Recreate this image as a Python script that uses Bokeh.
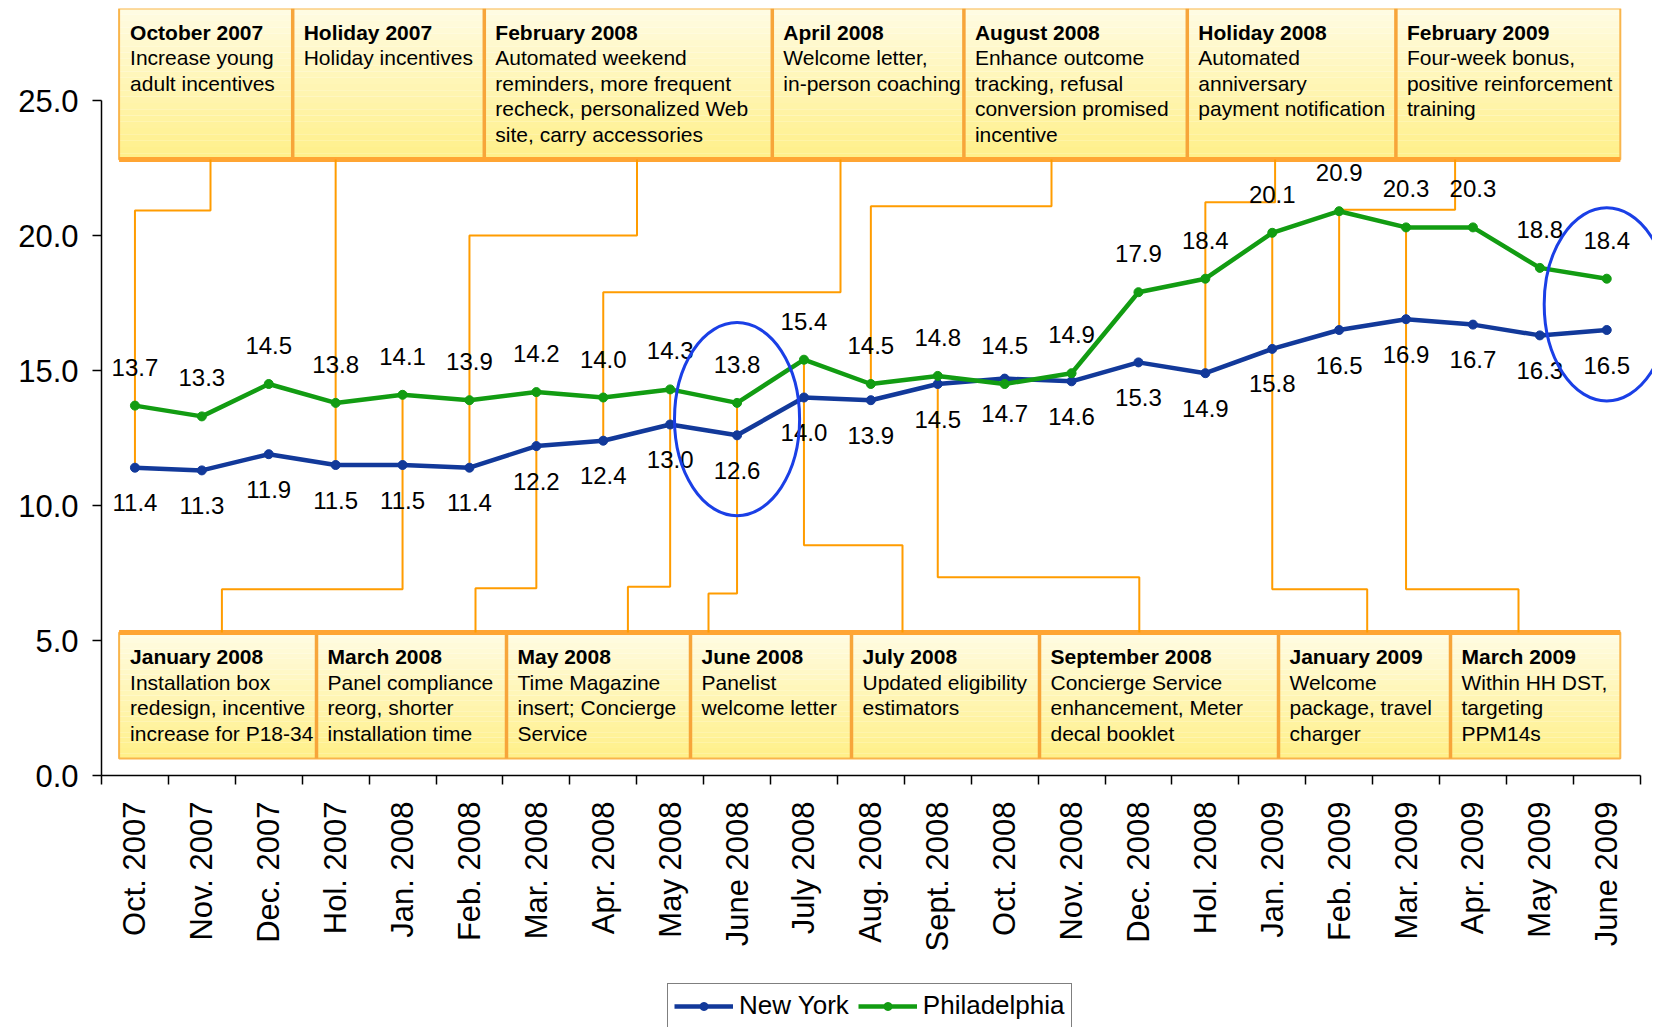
import math
import numpy as np
from bokeh.plotting import figure
from bokeh.layouts import column
from bokeh.models import Range1d, FixedTicker, Legend, LegendItem
from bokeh.core.properties import value
from bokeh.embed import file_html
from bokeh.resources import INLINE

# ---------------- data ----------------
categories = ["Oct. 2007", "Nov. 2007", "Dec. 2007", "Hol. 2007", "Jan. 2008", "Feb. 2008",
              "Mar. 2008", "Apr. 2008", "May 2008", "June 2008", "July 2008", "Aug. 2008",
              "Sept. 2008", "Oct. 2008", "Nov. 2008", "Dec. 2008", "Hol. 2008", "Jan. 2009",
              "Feb. 2009", "Mar. 2009", "Apr. 2009", "May 2009", "June 2009"]
new_york = [11.4, 11.3, 11.9, 11.5, 11.5, 11.4, 12.2, 12.4, 13.0, 12.6, 14.0, 13.9,
            14.5, 14.7, 14.6, 15.3, 14.9, 15.8, 16.5, 16.9, 16.7, 16.3, 16.5]
philadelphia = [13.7, 13.3, 14.5, 13.8, 14.1, 13.9, 14.2, 14.0, 14.3, 13.8, 15.4, 14.5,
                14.8, 14.5, 14.9, 17.9, 18.4, 20.1, 20.9, 20.3, 20.3, 18.8, 18.4]
y_ticks = [0, 5, 10, 15, 20, 25]
series_names = ["New York", "Philadelphia"]

top_titles = ["October 2007", "Holiday 2007", "February 2008", "April 2008",
              "August 2008", "Holiday 2008", "February 2009"]
top_texts = ["Increase young\nadult incentives",
             "Holiday incentives",
             "Automated weekend\nreminders, more frequent\nrecheck, personalized Web\nsite, carry accessories",
             "Welcome letter,\nin-person coaching",
             "Enhance outcome\ntracking, refusal\nconversion promised\nincentive",
             "Automated\nanniversary\npayment notification",
             "Four-week bonus,\npositive reinforcement\ntraining"]
top_months = ["Oct. 2007", "Hol. 2007", "Feb. 2008", "Apr. 2008", "Aug. 2008", "Hol. 2008", "Feb. 2009"]
top_series = ["ny", "ny", "ny", "ny", "ph", "ny", "ny"]

bottom_titles = ["January 2008", "March 2008", "May 2008", "June 2008", "July 2008",
                 "September 2008", "January 2009", "March 2009"]
bottom_texts = ["Installation box\nredesign, incentive\nincrease for P18-34",
                "Panel compliance\nreorg, shorter\ninstallation time",
                "Time Magazine\ninsert; Concierge\nService",
                "Panelist\nwelcome letter",
                "Updated eligibility\nestimators",
                "Concierge Service\nenhancement, Meter\ndecal booklet",
                "Welcome\npackage, travel\ncharger",
                "Within HH DST,\ntargeting\nPPM14s"]
bottom_months = ["Jan. 2008", "Mar. 2008", "May 2008", "June 2008", "July 2008",
                 "Sept. 2008", "Jan. 2009", "Mar. 2009"]
highlighted = ["June 2008", "June 2009"]

# ---------------- layout (page pixels) ----------------
FONT = "Liberation Sans"
PX_LEFT = 101.0
BAND = 66.9
FRAME_W = 1551
FRAME_H = 767
FRAME_TOP = 8.0
PX_ZERO = FRAME_TOP + FRAME_H
PXU = 27.0
BOTTOM_SPACE = 200
FIG_W = int(PX_LEFT) + FRAME_W
MAIN_H = int(FRAME_TOP) + FRAME_H + BOTTOM_SPACE
LEG_FIG_H = 1027 - MAIN_H

def dx(px):
    return (px - PX_LEFT) / BAND - 0.5

def dy(py):
    return (PX_ZERO - py) / PXU

top_edges = [118.6, 292.2, 483.8, 771.8, 963.4, 1186.8, 1395.4, 1619.8]
top_y0, top_y1 = 8.0, 159.0
top_conn_x = [210.0, None, 636.5, 840.0, 1051.0, 1274.6, 1454.6]
top_conn_jog = [210.0, None, 235.0, 291.7, 205.7, 201.7, 209.3]

bot_edges = [118.6, 316.0, 506.0, 690.0, 851.0, 1039.0, 1278.0, 1450.0, 1619.8]
bot_y0, bot_y1 = 632.0, 758.0
bot_conn_x = [221.4, 475.0, 627.4, 708.0, 902.0, 1138.8, 1366.7, 1518.0]
bot_conn_jog = [588.7, 587.7, 586.3, 593.0, 544.7, 576.7, 588.7, 588.7]

NY_COLOR = "#12399A"
PH_COLOR = "#129C12"
ORANGE = "#FF9C00"
BOX_EDGE = "#F9B54C"
BOX_EDGE_DARK = "#F7A53A"

x = list(range(len(categories)))

p = figure(frame_width=FRAME_W, frame_height=FRAME_H,
           x_range=Range1d(-0.5, -0.5 + FRAME_W / BAND),
           y_range=Range1d(0, FRAME_H / PXU),
           min_border_left=int(PX_LEFT), min_border_right=0, min_border_top=int(FRAME_TOP),
           min_border_bottom=BOTTOM_SPACE,
           output_backend="svg", toolbar_location=None)
p.xgrid.visible = False
p.ygrid.visible = False
p.outline_line_color = None
p.background_fill_color = "white"

# ---- axes ----
xa = p.xaxis[0]
xa.ticker = FixedTicker(ticks=x, minor_ticks=[i - 0.5 for i in range(len(categories) + 1)])
xa.major_label_overrides = {i: c for i, c in enumerate(categories)}
xa.major_label_orientation = math.pi / 2
xa.major_label_text_font = FONT
xa.major_label_text_font_size = "31px"
xa.major_label_text_color = "black"
xa.major_label_standoff = 17
xa.major_tick_line_color = None
xa.major_tick_out = 9
xa.major_tick_in = 0
xa.minor_tick_out = 9
xa.minor_tick_in = 0
xa.minor_tick_line_color = "black"
xa.minor_tick_line_width = 1.5
xa.axis_line_color = "black"
xa.axis_line_width = 1.5
xa.bounds = (-0.5, len(categories) - 0.5)

ya = p.yaxis[0]
ya.ticker = FixedTicker(ticks=y_ticks)
ya.major_label_overrides = {t: f"{t:.1f}" for t in y_ticks}
ya.major_label_text_font = FONT
ya.major_label_text_font_size = "31px"
ya.major_label_text_color = "black"
ya.major_label_standoff = 14
ya.major_tick_out = 9
ya.major_tick_in = 0
ya.major_tick_line_width = 1.5
ya.minor_tick_line_color = None
ya.axis_line_width = 1.5
ya.bounds = (0, 25)

# ---- annotation boxes (gradient fill) ----
def gradient_row(left_px, right_px, y0, y1, n=24):
    c0 = np.array([0xFF, 0xFC, 0xE2])
    c1 = np.array([0xFF, 0xF0, 0x8A])
    tops, bots, cols = [], [], []
    for i in range(n):
        t = i / (n - 1)
        c = (c0 + (c1 - c0) * t).astype(int)
        tops.append(dy(y0 + (y1 - y0) * i / n))
        bots.append(dy(y0 + (y1 - y0) * (i + 1) / n))
        cols.append("#%02X%02X%02X" % tuple(c))
    p.quad(left=[dx(left_px)] * n, right=[dx(right_px)] * n, top=tops, bottom=bots,
           fill_color=cols, line_color=None)

gradient_row(top_edges[0], top_edges[-1], top_y0, top_y1)
gradient_row(bot_edges[0], bot_edges[-1], bot_y0, bot_y1)

for edges, y0, y1, thick_y in [(top_edges, top_y0, top_y1, top_y1), (bot_edges, bot_y0, bot_y1, bot_y0)]:
    p.quad(left=[dx(edges[0])], right=[dx(edges[-1])], top=[dy(y0)], bottom=[dy(y1)],
           fill_color=None, line_color=BOX_EDGE, line_width=2)
    inner = edges[1:-1]
    p.segment(x0=[dx(e) for e in inner], x1=[dx(e) for e in inner],
              y0=[dy(y0)] * len(inner), y1=[dy(y1)] * len(inner),
              line_color=BOX_EDGE_DARK, line_width=3.5)
    p.segment(x0=[dx(edges[0])], x1=[dx(edges[-1])], y0=[dy(thick_y)], y1=[dy(thick_y)],
              line_color="#FFA533", line_width=5)

def box_texts(edges, titles, texts, title_y, line_y0, step):
    tx, ty, tt, bx, by, bt = [], [], [], [], [], []
    for i, (ttl, txt) in enumerate(zip(titles, texts)):
        left = dx(edges[i] + 11)
        tx.append(left); ty.append(dy(title_y)); tt.append(ttl)
        for j, line in enumerate(txt.split("\n")):
            bx.append(left); by.append(dy(line_y0 + j * step)); bt.append(line)
    p.text(x=tx, y=ty, text=tt, text_font=value(FONT), text_font_size="21px",
           text_font_style="bold", text_color="black", text_align="left", text_baseline="middle")
    p.text(x=bx, y=by, text=bt, text_font=value(FONT), text_font_size="21px",
           text_color="black", text_align="left", text_baseline="middle")

box_texts(top_edges, top_titles, top_texts, 31.8, 57.3, 25.4)
box_texts(bot_edges, bottom_titles, bottom_texts, 656.0, 681.7, 25.4)

# ---- connectors ----
xs, ys = [], []
for m, s, bxp, jog in zip(top_months, top_series, top_conn_x, top_conn_jog):
    i = categories.index(m)
    end = new_york[i] if s == "ny" else philadelphia[i]
    if bxp is None:
        xs.append([i, i]); ys.append([dy(top_y1), end])
    else:
        xs.append([dx(bxp), dx(bxp), i, i]); ys.append([dy(top_y1), dy(jog), dy(jog), end])
for m, bxp, jog in zip(bottom_months, bot_conn_x, bot_conn_jog):
    i = categories.index(m)
    end = philadelphia[i]
    xs.append([dx(bxp), dx(bxp), i, i]); ys.append([dy(bot_y0), dy(jog), dy(jog), end])
p.multi_line(xs=xs, ys=ys, line_color=ORANGE, line_width=2)

# ---- series ----
p.line(x, new_york, line_color=NY_COLOR, line_width=4.5)
p.scatter(x, new_york, size=9, fill_color=NY_COLOR, line_color=NY_COLOR)
p.line(x, philadelphia, line_color=PH_COLOR, line_width=4.5)
p.scatter(x, philadelphia, size=9, fill_color=PH_COLOR, line_color=PH_COLOR)

# ---- data labels ----
p.text(x=x, y=[v - 35 / PXU for v in new_york], text=[f"{v:.1f}" for v in new_york],
       text_font=value(FONT), text_font_size="24px", text_color="black",
       text_align="center", text_baseline="middle")
p.text(x=x, y=[v + 38.5 / PXU for v in philadelphia], text=[f"{v:.1f}" for v in philadelphia],
       text_font=value(FONT), text_font_size="24px", text_color="black",
       text_align="center", text_baseline="middle")

# ---- highlight ellipses ----
hi = [categories.index(h) for h in highlighted]
p.ellipse(x=hi, y=[(new_york[i] + philadelphia[i]) / 2 for i in hi], width=1.87, height=7.15,
          fill_color=None, line_color="#1A3FE6", line_width=3)

# ---- legend strip (separate figure below the chart; its frame aligns with the chart's) ----
lg = figure(width=FIG_W, height=LEG_FIG_H, x_range=Range1d(0, 1), y_range=Range1d(0, 1),
            min_border_left=0, min_border_right=0, min_border_top=0, min_border_bottom=0,
            output_backend="svg", toolbar_location=None)
lg.xaxis.visible = False
lg.yaxis.visible = False
lg.xgrid.visible = False
lg.ygrid.visible = False
lg.outline_line_color = None
items = []
for name, col in zip(series_names, [NY_COLOR, PH_COLOR]):
    # proxy renderers kept outside the visible range; they only supply the legend glyphs
    r1 = lg.line(x=[-5, -4], y=[-5, -5], line_color=col, line_width=4.5)
    r2 = lg.scatter(x=[-5], y=[-5], size=9, fill_color=col, line_color=col)
    items.append(LegendItem(label=name, renderers=[r1, r2]))

LEG_LEFT = 667.0
legend = Legend(items=items, orientation="horizontal",
                location=(LEG_LEFT - PX_LEFT, -1))
legend.label_text_font = FONT
legend.label_text_font_size = "26px"
legend.label_text_color = "black"
legend.glyph_width = 59
legend.glyph_height = 20
legend.label_standoff = 6
legend.spacing = 9
legend.padding = 6
legend.margin = 0
legend.border_line_color = "black"
legend.border_line_width = 1.5
legend.background_fill_alpha = 1
lg.add_layout(legend, "center")

layout = column(p, lg, spacing=0)
open("out.html", "w").write(file_html(layout, INLINE))
